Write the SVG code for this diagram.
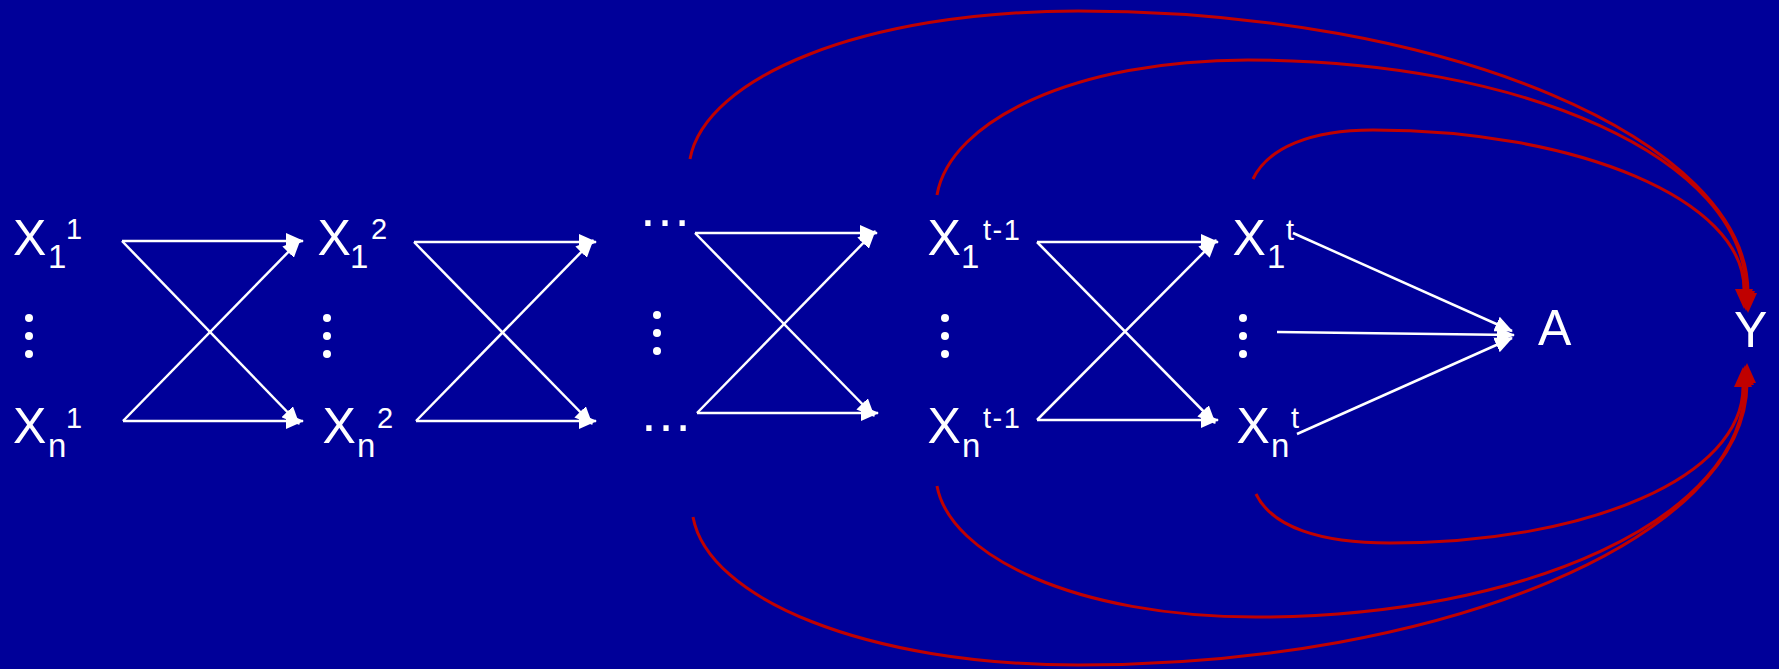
<svg xmlns="http://www.w3.org/2000/svg" width="1779" height="669" viewBox="0 0 1779 669">
<defs>
<style>
.lbl{font-family:"Liberation Sans",Arial,sans-serif;font-size:50px;fill:#fff}
.sub{font-size:33px}
.sup{font-size:29px}
.ell{font-family:"Liberation Sans",Arial,sans-serif;font-size:54px;fill:#fff}
.dot{fill:#fff}
.w{stroke:#fff;stroke-width:2.5;fill:none;marker-end:url(#wa)}
.r{stroke:#C00000;stroke-width:3;fill:none;marker-end:url(#ra)}
</style>
<marker id="wa" markerUnits="userSpaceOnUse" markerWidth="18" markerHeight="16" viewBox="0 0 18 16" refX="17" refY="8" orient="auto"><path d="M0,0 L18,8 L0,16 z" fill="#fff"/></marker>
<marker id="ra" markerUnits="userSpaceOnUse" markerWidth="20" markerHeight="18" viewBox="0 0 20 18" refX="0" refY="9" orient="auto"><path d="M0,0 L20,9 L0,18 z" fill="#C00000"/></marker>
</defs>
<rect width="1779" height="669" fill="#000099"/>

<g id="x1_1"><text class="lbl" x="13" y="255">X<tspan class="sub" x="48" y="268">1</tspan><tspan class="sup" x="66" y="239">1</tspan></text></g>
<g id="dots_1"><circle class="dot" cx="29" cy="318" r="4"/><circle class="dot" cx="29" cy="336" r="4"/><circle class="dot" cx="29" cy="354" r="4"/></g>
<g id="xn_1"><text class="lbl" x="13" y="443">X<tspan class="sub" x="48" y="457">n</tspan><tspan class="sup" x="66" y="428">1</tspan></text></g>

<g id="x1_2"><text class="lbl" x="317.5" y="255">X<tspan class="sub" x="350" y="268">1</tspan><tspan class="sup" x="371" y="239">2</tspan></text></g>
<g id="dots_2"><circle class="dot" cx="327" cy="318" r="4"/><circle class="dot" cx="327" cy="336" r="4"/><circle class="dot" cx="327" cy="354" r="4"/></g>
<g id="xn_2"><text class="lbl" x="322.5" y="443">X<tspan class="sub" x="357" y="457">n</tspan><tspan class="sup" x="377" y="428">2</tspan></text></g>

<g id="ell_top"><text class="ell" x="638" y="226">…</text></g>
<g id="dots_3"><circle class="dot" cx="657" cy="315" r="4"/><circle class="dot" cx="657" cy="333" r="4"/><circle class="dot" cx="657" cy="351" r="4"/></g>
<g id="ell_bot"><text class="ell" x="639" y="431">…</text></g>

<g id="x1_t1"><text class="lbl" x="927.5" y="255">X<tspan class="sub" x="961" y="268">1</tspan><tspan class="sup" x="983" y="240" letter-spacing="1.5">t-1</tspan></text></g>
<g id="dots_4"><circle class="dot" cx="945" cy="318" r="4"/><circle class="dot" cx="945" cy="336" r="4"/><circle class="dot" cx="945" cy="354" r="4"/></g>
<g id="xn_t1"><text class="lbl" x="927.5" y="443">X<tspan class="sub" x="962" y="457">n</tspan><tspan class="sup" x="983" y="428" letter-spacing="1.5">t-1</tspan></text></g>

<g id="x1_t"><text class="lbl" x="1232.5" y="255">X<tspan class="sub" x="1267" y="268">1</tspan><tspan class="sup" x="1286" y="240">t</tspan></text></g>
<g id="dots_5"><circle class="dot" cx="1243" cy="318" r="4"/><circle class="dot" cx="1243" cy="336" r="4"/><circle class="dot" cx="1243" cy="354" r="4"/></g>
<g id="xn_t"><text class="lbl" x="1236.5" y="443">X<tspan class="sub" x="1271" y="457">n</tspan><tspan class="sup" x="1291" y="428">t</tspan></text></g>

<g id="a"><text class="lbl" x="1538" y="345">A</text></g>
<g id="y"><text class="lbl" x="1734" y="347">Y</text></g>

<g id="connectors">
<path class="w" d="M122,241 L303,241"/>
<path class="w" d="M123,421 L303,421"/>
<path class="w" d="M122,241 L299,424"/>
<path class="w" d="M123,421 L300,240"/>

<path class="w" d="M414,242 L596,242"/>
<path class="w" d="M416,421 L596,421"/>
<path class="w" d="M414,242 L592,424"/>
<path class="w" d="M416,421 L593,240"/>

<path class="w" d="M695,233 L877,233"/>
<path class="w" d="M697,413 L878,413"/>
<path class="w" d="M695,233 L874,416"/>
<path class="w" d="M697,413 L875,231"/>

<path class="w" d="M1037,242 L1218,242"/>
<path class="w" d="M1037,420 L1218,420"/>
<path class="w" d="M1037,242 L1215,423"/>
<path class="w" d="M1037,420 L1216,240"/>

<path class="w" d="M1293,233 L1512,331"/>
<path class="w" d="M1277,332 L1514,335"/>
<path class="w" d="M1297,434 L1512,338"/>

<path class="r" d="M690,159 C705,77 864,11 1078,11 C1447,11 1748,140 1748,293"/>
<path class="r" d="M937,195 C950,120 1076,60 1248,60 C1522,60 1746,158 1746,291"/>
<path class="r" d="M1253,179 C1268,148 1310,130 1373,130 C1577,130 1744,200 1744,289"/>
<path class="r" d="M693,517 C708,599 867,665 1078,665 C1447,665 1747,536 1747,383"/>
<path class="r" d="M937,486 C950,556 1076,617 1256,617 C1525,617 1745,518 1745,385"/>
<path class="r" d="M1256,494 C1272,527 1320,543 1390,543 C1590,543 1743,476 1743,387"/>
</g>
</svg>
